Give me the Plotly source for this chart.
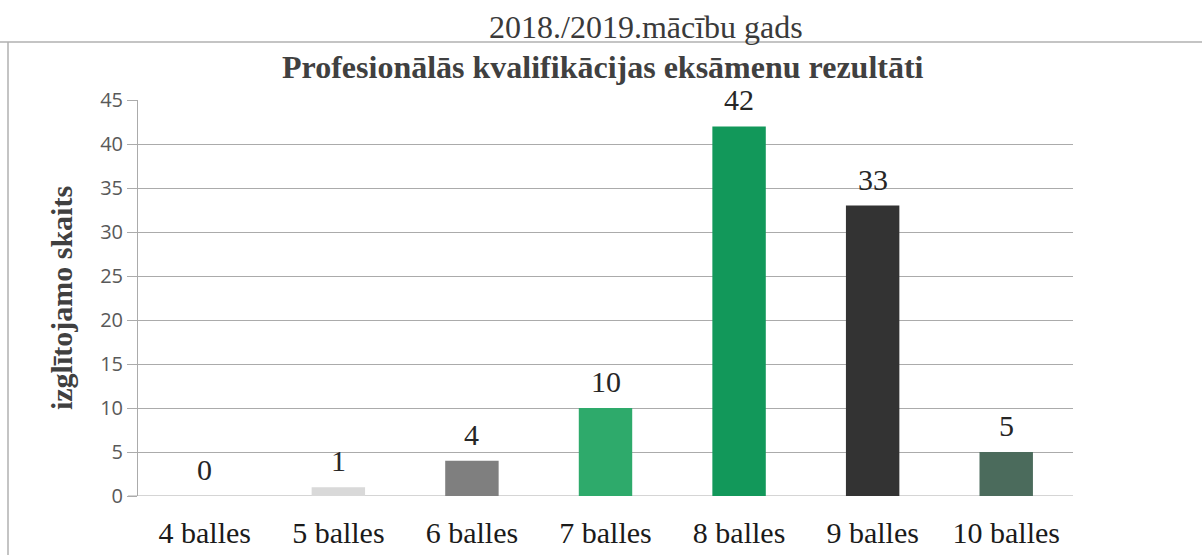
import plotly.graph_objects as go

# Exam results by grade
categories = ["4 balles", "5 balles", "6 balles", "7 balles", "8 balles", "9 balles", "10 balles"]
students = [0, 1, 4, 10, 42, 33, 5]
bar_colors = ["#bfbfbf", "#d9d9d9", "#7f7f7f", "#2eaa6b", "#12985a", "#333333", "#4b6b5c"]
y_ticks = [0, 5, 10, 15, 20, 25, 30, 35, 40, 45]

serif = "Liberation Serif, Times New Roman, serif"
sans = "Open Sans, Liberation Sans, sans-serif"

# plot area geometry in pixels
W, H = 1202, 555
L, R, T, B = 138, 129, 100, 59
PW, PH = W - L - R, H - T - B


def px_x(x):
    return (x - L) / PW


def px_y(y):
    return (H - B - y) / PH


fig = go.Figure()
fig.add_trace(go.Bar(
    x=categories,
    y=students,
    marker=dict(color=bar_colors, line=dict(width=0)),
    width=0.4,
    hoverinfo="x+y",
))

# value labels above each bar
for cat, val in zip(categories, students):
    fig.add_annotation(
        x=cat, y=val, text=str(val), showarrow=False,
        yanchor="bottom", yshift=8,
        font=dict(family=serif, size=30, color="#262626"),
    )

fig.add_annotation(
    text="2018./2019.mācību gads", xref="paper", yref="paper",
    x=px_x(646), y=px_y(27), showarrow=False,
    font=dict(family=serif, size=32, color="#3a3a3a"),
    yanchor="middle", xanchor="center",
)
fig.add_annotation(
    text="<b>Profesionālās kvalifikācijas eksāmenu rezultāti</b>", xref="paper", yref="paper",
    x=px_x(603), y=px_y(67), showarrow=False,
    font=dict(family=serif, size=32, color="#404040"),
    yanchor="middle", xanchor="center",
)

fig.update_layout(
    width=W, height=H,
    paper_bgcolor="white", plot_bgcolor="white",
    margin=dict(l=L, r=R, t=T, b=B, autoexpand=False),
    showlegend=False,
    bargap=0.6,
)

fig.update_xaxes(
    type="category",
    showgrid=False, zeroline=False,
    showline=False, automargin=False,
    ticks="", ticklabelstandoff=16,
    tickfont=dict(family=serif, size=30, color="#1a1a1a"),
)
fig.update_yaxes(
    range=[0, 45], tickvals=y_ticks, automargin=False,
    showgrid=True, gridcolor="#ababab", gridwidth=1,
    zeroline=False,
    showline=True, linecolor="#ababab", linewidth=1,
    ticks="outside", ticklen=10, tickcolor="#ababab",
    tickfont=dict(family=sans, size=20, color="#595959"),
    title=dict(text="<b>izglītojamo skaits</b>", standoff=18,
               font=dict(family=serif, size=30, color="#404040")),
)

# baseline at zero across the plot area
fig.add_shape(type="line", xref="paper", yref="y", x0=px_x(128), x1=1, y0=0, y1=0,
              line=dict(color="#ababab", width=1), layer="below")

# outer chart frame: top and left edges
fig.add_shape(type="line", xref="paper", yref="paper",
              x0=px_x(0), x1=px_x(W), y0=px_y(42), y1=px_y(42),
              line=dict(color="#b0b0b0", width=1.5))
fig.add_shape(type="line", xref="paper", yref="paper",
              x0=px_x(8), x1=px_x(8), y0=px_y(42), y1=px_y(H),
              line=dict(color="#b0b0b0", width=1.5))

fig.write_html("out.html")
